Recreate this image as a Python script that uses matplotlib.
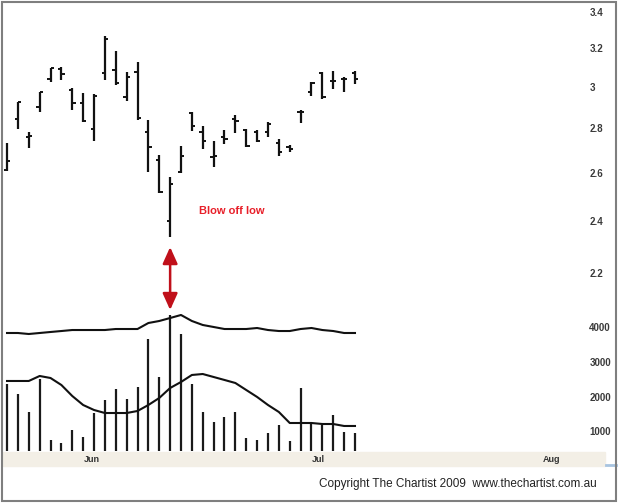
import numpy as np
import matplotlib
matplotlib.use("Agg")
import matplotlib.pyplot as plt
from matplotlib.patches import Rectangle
from matplotlib.lines import Line2D

plt.rcParams['font.family'] = ['Liberation Sans', 'DejaVu Sans']

# Daily OHLC bars (log price scale)
opens  = [2.613, 2.845, 2.761, 2.902, 3.041, 3.092, 2.985, 2.922, 2.798, 3.071, 3.087,
          2.951, 3.076, 2.784, 2.657, 2.400, 2.605, 2.873, 2.784, 2.670, 2.761, 2.845,
          2.793, 2.784, 2.784, 2.733, 2.715, 2.878, 2.975, 3.071, 3.031, 3.041, 3.071]
highs  = [2.733, 2.926, 2.784, 2.975, 3.097, 3.102, 2.995, 2.971, 2.966, 3.267, 3.186,
          3.076, 3.128, 2.840, 2.679, 2.583, 2.720, 2.878, 2.812, 2.742, 2.793, 2.864,
          2.798, 2.793, 2.831, 2.751, 2.724, 2.888, 3.026, 3.076, 3.082, 3.051, 3.082]
lows   = [2.609, 2.798, 2.711, 2.878, 3.026, 3.036, 2.888, 2.831, 2.742, 3.036, 3.010,
          2.932, 2.840, 2.605, 2.515, 2.337, 2.600, 2.788, 2.706, 2.626, 2.729, 2.779,
          2.715, 2.738, 2.761, 2.675, 2.693, 2.826, 2.956, 2.941, 2.990, 2.975, 3.015]
closes = [2.652, 2.926, 2.765, 2.975, 3.097, 3.066, 2.922, 2.835, 2.956, 3.250, 3.021,
          3.051, 2.850, 2.715, 2.519, 2.553, 2.675, 2.812, 2.742, 2.675, 2.751, 2.835,
          2.720, 2.742, 2.821, 2.693, 2.706, 2.878, 3.021, 2.951, 3.031, 3.041, 3.041]

# Volume and the two averages in the lower panel
volume = [2360, 2075, 1556, 2507, 749, 663, 1037, 835, 1527, 1901, 2218,
          1930, 2275, 3658, 2563, 4349, 3802, 2362, 1556, 1267, 1411, 1556,
          806, 749, 950, 1181, 720, 2246, 1267, 1181, 1469, 979, 950]
vol_avg = [2450, 2450, 2450, 2594, 2536, 2334, 2017, 1758, 1614, 1527, 1527,
           1527, 1585, 1758, 1960, 2248, 2421, 2623, 2651, 2565, 2479, 2392,
           2190, 1989, 1758, 1556, 1239, 1239, 1239, 1210, 1210, 1153, 1153]
upper_line = [3833, 3833, 3804, 3833, 3862, 3890, 3919, 3919, 3919, 3919, 3948,
              3948, 3948, 4121, 4179, 4265, 4352, 4179, 4064, 4006, 3948, 3948,
              3948, 3977, 3919, 3890, 3890, 3948, 3977, 3919, 3890, 3833, 3833]

month_labels = ['Jun', 'Jul', 'Aug']
month_pos = [7.8, 28.6, 50.1]
price_ticks = [2.2, 2.4, 2.6, 2.8, 3, 3.2, 3.4]
vol_ticks = [1000, 2000, 3000, 4000]

W, H = 618, 504
fig = plt.figure(figsize=(W / 100, H / 100), dpi=100)

x = np.arange(len(closes))
xlim = (-0.37, 52.97)

# price panel
axp = fig.add_axes([3 / W, 1 - 300 / H, 580 / W, 297 / H])
axp.set_yscale('log')
axp.set_ylim(2.104, 3.451)
axp.set_xlim(*xlim)
axp.vlines(x, lows, highs, color='#111111', lw=1.6)
axp.hlines(opens, x - 0.3, x, color='#111111', lw=1.4)
axp.hlines(closes, x, x + 0.3, color='#111111', lw=1.4)
axp.text(20.7, 2.44, 'Blow off low', color='#e8202a', fontsize=8,
         fontweight='bold', ha='center', va='center')

# volume panel
axv = fig.add_axes([3 / W, 1 - 451 / H, 580 / W, 151 / H])
axv.set_ylim(432, 4784)
axv.set_xlim(*xlim)
axv.vlines(x, 0, volume, color='#1a1a1a', lw=1.6)
axv.plot(x, vol_avg, color='#111111', lw=1.5)
axv.plot(x, upper_line, color='#111111', lw=1.5)

for ax in (axp, axv):
    for s in ax.spines.values():
        s.set_visible(False)
    ax.patch.set_alpha(0)
    ax.yaxis.tick_right()
    ax.tick_params(axis='y', length=0, pad=4.5, labelsize=7, labelcolor='#3a3a3a')
    ax.minorticks_off()
    for lab in ax.get_yticklabels():
        lab.set_fontweight('bold')

axp.set_yticks(price_ticks)
axp.set_yticklabels([f'{t:g}' for t in price_ticks], fontweight='bold')
axp.set_xticks([])
axv.set_yticks(vol_ticks)
axv.set_yticklabels([str(t) for t in vol_ticks], fontweight='bold')
axv.set_xticks(month_pos)
axv.set_xticklabels(month_labels, fontsize=6.5, fontweight='bold', color='#333333')
axv.tick_params(axis='x', length=0, pad=3)

# red double-headed arrow from the low down to the volume spike
axp.annotate('', xy=(15, 4496), xycoords=axv.transData,
             xytext=(15, 2.298), textcoords=axp.transData,
             annotation_clip=False,
             arrowprops=dict(arrowstyle='<|-|>,head_length=1.0,head_width=0.45',
                             color='#c0101a', lw=1.8, shrinkA=0, shrinkB=0))

# beige date strip, frame and copyright
fig.patches.append(Rectangle((3 / W, 1 - 466 / H), 602 / W, 14 / H,
                             transform=fig.transFigure, color='#f3efe6', zorder=-1))
fig.lines.append(Line2D([606 / W, 616 / W], [1 - 465 / H, 1 - 465 / H],
                        transform=fig.transFigure, color='#a8c4e0', lw=2))
fig.patches.append(Rectangle((2 / W, 1 - 501 / H), 614 / W, 499 / H,
                             transform=fig.transFigure, fill=False,
                             edgecolor='#7f7f7f', lw=1.5, zorder=5))
fig.text(597 / W, 1 - 484 / H, 'Copyright The Chartist 2009  www.thechartist.com.au',
         ha='right', va='center', fontsize=8.5, color='#222222')

fig.savefig('out.png', dpi=100)
